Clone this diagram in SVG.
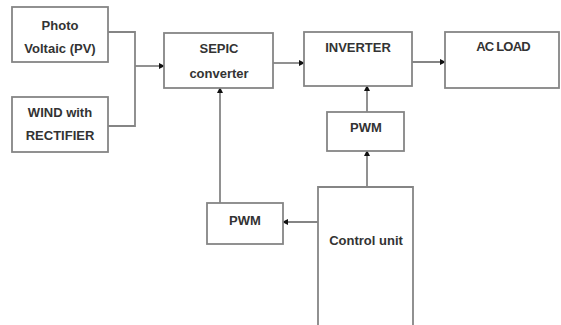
<svg xmlns="http://www.w3.org/2000/svg" width="561" height="325" viewBox="0 0 561 325">
<style>
.box{fill:#fff;stroke:#858585;stroke-width:1.8}
.t{font-family:"Liberation Sans",Arial,sans-serif;font-weight:bold;font-size:13px;fill:#333;text-anchor:middle;dominant-baseline:central}
.ln{fill:none;stroke:#858585;stroke-width:1.8}
</style>
<defs>
<marker id="ah" markerUnits="userSpaceOnUse" markerWidth="8" markerHeight="8" refX="5" refY="3" orient="auto">
<path d="M0,0 L6,3 L0,6 Z" fill="#111"/>
</marker>
</defs>
<rect width="561" height="325" fill="#fff"/>
<g id="connectors">
<path class="ln" d="M108,32 H135 V126 H108"/>
<path class="ln" d="M135,66 H164" marker-end="url(#ah)"/>
<path class="ln" d="M273,63 H304" marker-end="url(#ah)"/>
<path class="ln" d="M412,62 H445" marker-end="url(#ah)"/>
<path class="ln" d="M367,112 V86" marker-end="url(#ah)"/>
<path class="ln" d="M367,187 V151" marker-end="url(#ah)"/>
<path class="ln" d="M318,222 H283" marker-end="url(#ah)"/>
<path class="ln" d="M220,203 V88" marker-end="url(#ah)"/>
</g>
<g id="pv">
<rect class="box" x="12" y="7" width="96" height="55"/>
<text class="t" x="60" y="25">Photo</text>
<text class="t" x="60" y="48">Voltaic (PV)</text>
</g>
<g id="wind">
<rect class="box" x="12" y="97" width="96" height="55"/>
<text class="t" x="60" y="112">WIND with</text>
<text class="t" x="60" y="135">RECTIFIER</text>
</g>
<g id="sepic">
<rect class="box" x="164" y="33" width="109" height="55"/>
<text class="t" x="219" y="48">SEPIC</text>
<text class="t" x="219" y="73">converter</text>
</g>
<g id="inverter">
<rect class="box" x="304" y="32" width="108" height="54"/>
<text class="t" x="358" y="47">INVERTER</text>
</g>
<g id="acload">
<rect class="box" x="445" y="32" width="114" height="56"/>
<text class="t" x="503" y="46" letter-spacing="-0.8">AC LOAD</text>
</g>
<g id="pwm-inverter">
<rect class="box" x="327" y="112" width="77" height="39"/>
<text class="t" x="366" y="127">PWM</text>
</g>
<g id="pwm-sepic">
<rect class="box" x="207" y="203" width="76" height="41"/>
<text class="t" x="245" y="220">PWM</text>
</g>
<g id="control">
<path class="box" d="M318,330 V187 H413 V330"/>
<text class="t" x="366" y="240">Control unit</text>
</g>
</svg>
